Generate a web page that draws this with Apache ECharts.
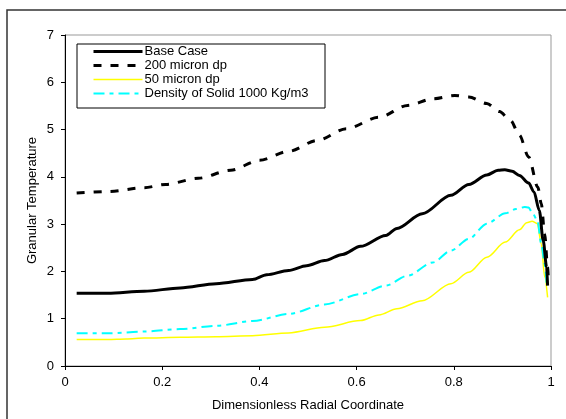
<!DOCTYPE html>
<html>
<head>
<meta charset="utf-8">
<script src="https://cdn.jsdelivr.net/npm/echarts@6/dist/echarts.min.js"></script>
<style>
html,body{margin:0;padding:0;background:#fff;}
#chart{width:566px;height:419px;}
</style>
</head>
<body>
<div id="chart"></div>
<script>
var seriesNames = ['Base Case', '200 micron dp', '50 micron dp', 'Density of Solid 1000 Kg/m3'];

var baseX = [0.024, 0.088, 0.163, 0.237, 0.311, 0.386, 0.415, 0.46, 0.497, 0.534, 0.571, 0.608, 0.66, 0.683, 0.735, 0.794, 0.831, 0.868, 0.891, 0.905, 0.920, 0.935, 0.954, 0.965, 0.976, 0.984, 0.991, 0.993];
var baseY = [1.54, 1.54, 1.58, 1.65, 1.74, 1.83, 1.93, 2.02, 2.12, 2.23, 2.36, 2.53, 2.76, 2.91, 3.22, 3.61, 3.84, 4.04, 4.14, 4.15, 4.12, 4.03, 3.87, 3.68, 3.29, 2.65, 2.09, 1.70];

var d200X = [0.024, 0.088, 0.163, 0.207, 0.274, 0.341, 0.40, 0.46, 0.519, 0.579, 0.646, 0.705, 0.757, 0.802, 0.831, 0.868, 0.894, 0.917, 0.935, 0.954, 0.973, 0.98, 0.987, 0.993, 0.995];
var d200Y = [3.66, 3.69, 3.77, 3.84, 3.97, 4.14, 4.35, 4.54, 4.77, 5.02, 5.26, 5.51, 5.65, 5.72, 5.69, 5.55, 5.38, 5.19, 4.88, 4.42, 3.78, 3.43, 2.79, 2.09, 1.74];

var d50X = [0.024, 0.088, 0.126, 0.163, 0.237, 0.311, 0.386, 0.46, 0.534, 0.608, 0.646, 0.683, 0.735, 0.794, 0.831, 0.868, 0.906, 0.935, 0.950, 0.961, 0.972, 0.980, 0.987, 0.993];
var d50Y = [0.56, 0.56, 0.57, 0.59, 0.61, 0.62, 0.64, 0.70, 0.82, 0.96, 1.08, 1.21, 1.38, 1.74, 1.98, 2.30, 2.62, 2.88, 3.03, 3.06, 3.01, 2.58, 1.88, 1.45];

var rhoX = [0.024, 0.088, 0.163, 0.237, 0.311, 0.386, 0.46, 0.534, 0.608, 0.66, 0.705, 0.757, 0.794, 0.831, 0.868, 0.906, 0.928, 0.946, 0.954, 0.961, 0.972, 0.980, 0.987, 0.991];
var rhoY = [0.69, 0.69, 0.73, 0.78, 0.85, 0.95, 1.10, 1.30, 1.52, 1.70, 1.91, 2.19, 2.44, 2.69, 3.01, 3.23, 3.32, 3.36, 3.35, 3.25, 3.08, 2.58, 2.16, 1.74];

var xTicks = [0, 0.2, 0.4, 0.6, 0.8, 1];
var yTicks = [0, 1, 2, 3, 4, 5, 6, 7];

function pairs(xs, ys) { return xs.map(function (x, i) { return [x, ys[i]]; }); }

var FONT = "'Liberation Sans', Arial, sans-serif";
var FS = 13;
var lineStyles = [
  {color: '#000', width: 3},
  {color: '#000', width: 3, type: [8, 9]},
  {color: '#ffff00', width: 1.5},
  {color: '#00ffff', width: 2, type: [11, 5, 4, 5]}
];
var chart = echarts.init(document.getElementById('chart'), null, {renderer: 'canvas'});
chart.setOption({
  animation: false,
  backgroundColor: '#fff',
  graphic: [
    {type: 'rect', shape: {x: 7, y: 10, width: 700, height: 600}, style: {fill: 'none', stroke: '#333', lineWidth: 1.5}, z: 0},
    {type: 'rect', shape: {x: 77, y: 44, width: 248, height: 64}, style: {fill: '#fff', stroke: '#000', lineWidth: 1}, z: 50}
  ],
  grid: {left: 65, right: 15, top: 35, bottom: 53, show: true, borderColor: '#999', borderWidth: 1, backgroundColor: 'transparent'},
  legend: {
    orient: 'vertical', left: 92, top: 45, padding: 0,
    itemWidth: 49, itemHeight: 14, itemGap: 1, z: 60,
    itemStyle: {opacity: 0},
    textStyle: {fontFamily: FONT, fontSize: FS, color: '#000', padding: [0, 0, 0, -3]},
    data: seriesNames.map(function (n, i) { return {name: n, lineStyle: {width: lineStyles[i].width, type: lineStyles[i].type || 'solid', color: lineStyles[i].color}}; })
  },
  xAxis: {
    type: 'value', min: 0, max: 1, interval: 0.2,
    name: 'Dimensionless Radial Coordinate', nameLocation: 'middle', nameGap: 33,
    nameTextStyle: {fontFamily: FONT, fontSize: FS, color: '#000'},
    axisLine: {show: true, lineStyle: {color: '#000', width: 1}},
    axisTick: {show: true, inside: false, length: 4, lineStyle: {color: '#000'}},
    axisLabel: {fontFamily: FONT, fontSize: FS, color: '#000', margin: 10,
      formatter: function (v) { return xTicks.indexOf(Math.round(v * 10) / 10) >= 0 ? String(Math.round(v * 10) / 10) : ''; }},
    splitLine: {show: false}
  },
  yAxis: {
    type: 'value', min: 0, max: 7, interval: 1,
    name: 'Granular Temperature', nameLocation: 'middle', nameGap: 26, nameMoveOverlap: false,
    nameTextStyle: {fontFamily: FONT, fontSize: FS, color: '#000'},
    axisLine: {show: true, lineStyle: {color: '#000', width: 1}},
    axisTick: {show: true, inside: false, length: 4, lineStyle: {color: '#000'}},
    axisLabel: {fontFamily: FONT, fontSize: FS, color: '#000', margin: 11,
      formatter: function (v) { return yTicks.indexOf(v) >= 0 ? String(v) : ''; }},
    splitLine: {show: false}
  },
  series: [
    {name: seriesNames[0], type: 'line', data: pairs(baseX, baseY), symbol: 'none', smooth: 0.3, smoothMonotone: 'x',
      lineStyle: lineStyles[0], itemStyle: {color: '#000'}, z: 4},
    {name: seriesNames[1], type: 'line', data: pairs(d200X, d200Y), symbol: 'none', smooth: 0.3, smoothMonotone: 'x',
      lineStyle: lineStyles[1], itemStyle: {color: '#000'}, z: 3},
    {name: seriesNames[2], type: 'line', data: pairs(d50X, d50Y), symbol: 'none', smooth: 0.3, smoothMonotone: 'x',
      lineStyle: lineStyles[2], itemStyle: {color: '#ffff00'}, z: 2},
    {name: seriesNames[3], type: 'line', data: pairs(rhoX, rhoY), symbol: 'none', smooth: 0.3, smoothMonotone: 'x',
      lineStyle: lineStyles[3], itemStyle: {color: '#00ffff'}, z: 2}
  ]
});
</script>
</body>
</html>
